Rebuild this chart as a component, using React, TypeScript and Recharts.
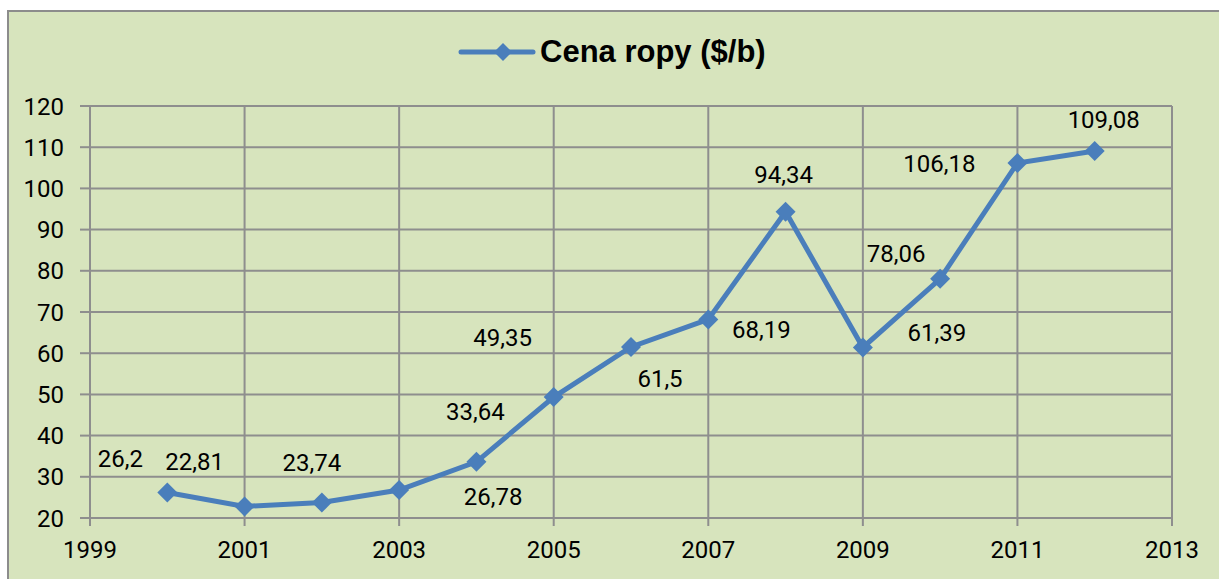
import { LineChart, Line, XAxis, YAxis, CartesianGrid, LabelList } from "recharts"

// Cena ropy ($/b), 2000–2012
const years = [2000, 2001, 2002, 2003, 2004, 2005, 2006, 2007, 2008, 2009, 2010, 2011, 2012]
const prices = [26.2, 22.81, 23.74, 26.78, 33.64, 49.35, 61.5, 68.19, 94.34, 61.39, 78.06, 106.18, 109.08]
const xTicks = [1999, 2001, 2003, 2005, 2007, 2009, 2011, 2013]
const yTicks = [20, 30, 40, 50, 60, 70, 80, 90, 100, 110, 120]
const seriesName = "Cena ropy ($/b)"

const data = years.map((year, i) => ({ year, price: prices[i] }))

// label placement relative to each point (dragged by hand in the original)
const labelShift = [
  [-47, -33], [-50, -44], [-10, -40], [94, 7], [-1, -50], [-51, -59], [29, 32],
  [53, 11], [-2, -37], [74, -14], [-44, -25], [-78, 1], [9, -31],
]

const BLUE = "#4a7ebb"
const GRID = "#8e8e8e"
const FONT = "Roboto, 'Liberation Sans', sans-serif"

const Diamond = (props: any) => {
  const { cx, cy } = props
  if (cx == null || cy == null) return null
  const r = 10
  return <polygon points={`${cx},${cy - r} ${cx + r},${cy} ${cx},${cy + r} ${cx - r},${cy}`} fill={BLUE} />
}

const PriceLabel = (props: any) => {
  const { x, y, value, index } = props
  const [dx, dy] = labelShift[index] || [0, -20]
  return (
    <text x={x + dx} y={y + dy} textAnchor="middle" dominantBaseline="central" fontSize={24} fontFamily={FONT} fill="#000">
      {String(value).replace(".", ",")}
    </text>
  )
}

export default function App() {
  return (
    <div style={{ position: "absolute", left: 0, top: 0, width: 1219, height: 579, overflow: "hidden", background: "#fff" }}>
      <div
        style={{
          position: "absolute",
          left: 7,
          top: 10,
          width: 1240,
          height: 600,
          background: "#d7e4bd",
          border: "2px solid #8c8c8c",
        }}
      >
        <div
          style={{
            position: "absolute",
            left: 449,
            top: 20,
            height: 40,
            display: "flex",
            alignItems: "center",
            fontFamily: "'Liberation Sans', Arial, sans-serif",
            fontWeight: "bold",
            fontSize: 31,
            color: "#000",
          }}
        >
          <svg width={78} height={24} style={{ marginRight: 4 }}>
            <line x1={3} y1={12} x2={75} y2={12} stroke={BLUE} strokeWidth={5} strokeLinecap="round" />
            <polygon points="45,3 54,12 45,21 36,12" fill={BLUE} />
          </svg>
          {seriesName}
        </div>
        <LineChart width={1240} height={567} data={data} margin={{ top: 94, right: 77, bottom: 0, left: 11 }}>
          <CartesianGrid stroke={GRID} strokeWidth={2} />
          <XAxis
            dataKey="year"
            type="number"
            domain={[1999, 2013]}
            ticks={xTicks}
            interval={0}
            stroke={GRID}
            strokeWidth={2}
            tickSize={8}
            height={61}
            tick={{ fill: "#000", fontSize: 24, fontFamily: FONT }}
            tickMargin={15}
          />
          <YAxis
            type="number"
            domain={[20, 120]}
            ticks={yTicks}
            interval={0}
            stroke={GRID}
            strokeWidth={2}
            tickSize={10}
            width={70}
            tick={{ fill: "#000", fontSize: 24, fontFamily: FONT }}
            tickMargin={16}
          />
          <Line
            dataKey="price"
            name={seriesName}
            stroke={BLUE}
            strokeWidth={5}
            dot={<Diamond />}
            activeDot={false}
            isAnimationActive={false}
          >
            <LabelList dataKey="price" content={<PriceLabel />} />
          </Line>
        </LineChart>
      </div>
    </div>
  )
}
